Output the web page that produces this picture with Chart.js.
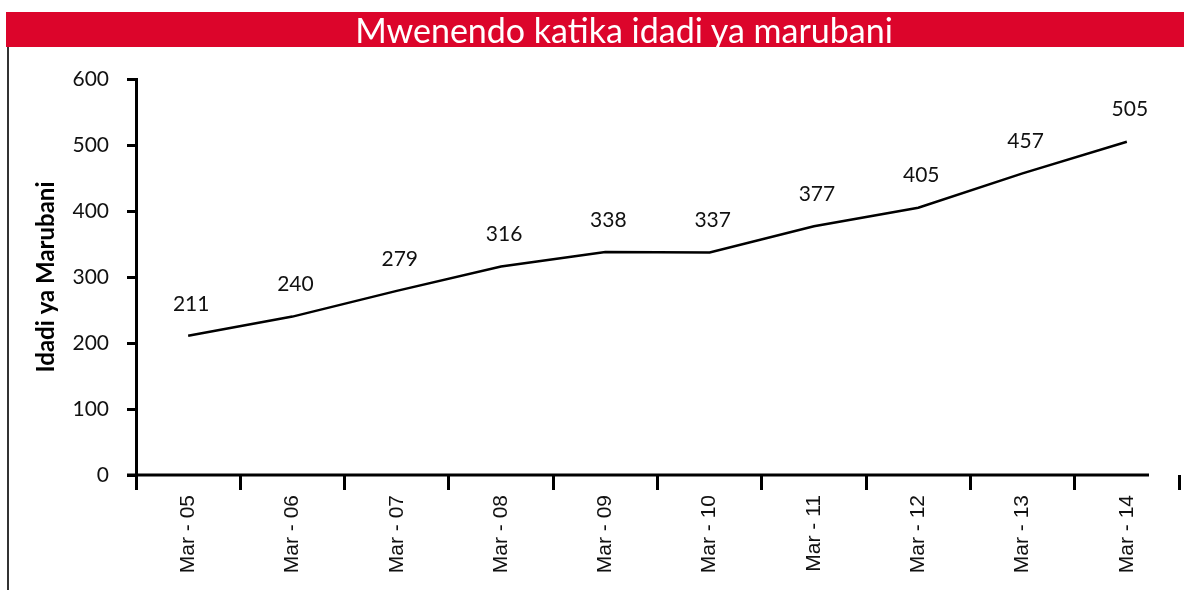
<!DOCTYPE html>
<html>
<head>
<meta charset="utf-8">
<script src="https://cdn.jsdelivr.net/npm/chart.js@4"></script>
<style>
  body { margin: 0; background: #fff; }
  #wrap { position: relative; width: 1184px; height: 590px; overflow: hidden; }
  #banner {
    position: absolute; left: 6px; top: 12px; width: 1178px; height: 35px;
    background: #dc052b; color: #fff; font-family: Lato, sans-serif; font-size: 34px;
    line-height: 35px; text-align: center; padding-left: 58px; box-sizing: border-box; z-index: 2;
  }
  #edge { position: absolute; left: 7px; top: 47px; width: 2px; height: 543px; background: #333; z-index: 2; }
  canvas { position: absolute; left: 0; top: 0; }
</style>
</head>
<body>
<div id="wrap">
  <div id="banner">Mwenendo katika idadi ya marubani</div>
  <div id="edge"></div>
  <canvas id="grafico" width="1184" height="590"></canvas>
</div>
<script>
const categorias = ['Mar - 05', 'Mar - 06', 'Mar - 07', 'Mar - 08', 'Mar - 09',
                    'Mar - 10', 'Mar - 11', 'Mar - 12', 'Mar - 13', 'Mar - 14'];
const marubani = [211, 240, 279, 316, 338, 337, 377, 405, 457, 505];
const yTicks = [0, 100, 200, 300, 400, 500, 600];

const fonti = 'Lato, "Noto Sans", sans-serif';

// lebo za thamani juu ya mstari
const lebo = {
  id: 'lebo',
  afterDatasetsDraw(chart) {
    const ctx = chart.ctx;
    const meta = chart.getDatasetMeta(0);
    ctx.save();
    ctx.font = '21px ' + fonti;
    ctx.fillStyle = '#111';
    ctx.textAlign = 'center';
    ctx.textBaseline = 'middle';
    meta.data.forEach((pt, i) => {
      ctx.fillText(String(marubani[i]), pt.x + 3, pt.y - 32);
    });
    ctx.restore();
  }
};

// mstari wa mhimili wa x (unaishia kabla ya mwisho)
const mhimiliX = {
  id: 'mhimiliX',
  afterDraw(chart) {
    const a = chart.chartArea;
    const ctx = chart.ctx;
    ctx.save();
    ctx.strokeStyle = '#000';
    ctx.lineWidth = 3;
    ctx.beginPath();
    ctx.moveTo(a.left - 9, a.bottom);
    ctx.lineTo(a.right - 30, a.bottom);
    ctx.stroke();
    ctx.restore();
  }
};

new Chart(document.getElementById('grafico').getContext('2d'), {
  type: 'line',
  data: {
    labels: categorias,
    datasets: [{
      data: marubani,
      borderColor: '#000',
      borderWidth: 2.5,
      pointRadius: 0,
      tension: 0,
      fill: false
    }]
  },
  options: {
    responsive: false,
    animation: false,
    layout: { padding: { top: 79, right: 5, left: 0, bottom: 0 } },
    plugins: { legend: { display: false }, tooltip: { enabled: false } },
    scales: {
      x: {
        offset: true,
        grid: {
          offset: true,
          drawOnChartArea: false,
          tickLength: 15,
          lineWidth: 3,
          color: c => c.index === 10 ? 'rgba(0,0,0,0)' : '#000'
        },
        border: { display: false },
        ticks: {
          minRotation: 90, maxRotation: 90, padding: 5,
          color: '#111', font: { family: '"Liberation Sans", Arial, sans-serif', size: 21 }
        },
        afterFit: s => { s.height = 115; }
      },
      y: {
        min: 0, max: 600,
        afterBuildTicks: s => { s.ticks = yTicks.map(v => ({ value: v })); },
        grid: { drawOnChartArea: false, tickLength: 9, lineWidth: 3, color: '#000' },
        border: { display: true, color: '#000', width: 3 },
        ticks: { padding: 18, color: '#111', font: { family: fonti, size: 21 } },
        title: {
          display: true, text: 'Idadi ya Marubani', color: '#000',
          font: { family: fonti, size: 24, weight: 'bold' }, padding: { top: 32, bottom: 0 }
        },
        afterFit: s => { s.width = 136; }
      }
    }
  },
  plugins: [lebo, mhimiliX]
});
</script>
</body>
</html>
